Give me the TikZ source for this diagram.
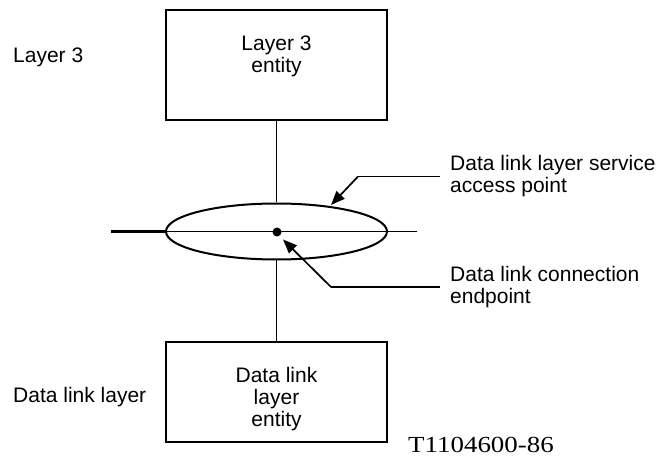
\documentclass[tikz,border=0pt]{standalone}
\usepackage{fontspec}
\setmainfont{Liberation Sans}
\newfontfamily\figserif{Liberation Serif}
\usetikzlibrary{arrows.meta,shapes.geometric}
\begin{document}
\begin{tikzpicture}[x=1pt,y=-1pt,
  lbl/.style={font=\fontsize{21}{22}\selectfont, inner sep=0pt, align=center},
  sidelbl/.style={font=\fontsize{21}{22}\selectfont, inner sep=0pt, anchor=west},
  calllbl/.style={font=\fontsize{21}{22}\selectfont, inner xsep=10pt, inner ysep=0pt, anchor=west, align=left},
  entitybox/.style={draw, line width=2pt, minimum width=221pt, inner sep=0pt},
  conn/.style={line width=1.8pt},
  leader/.style={line width=1.7pt},
  arr/.style={-{Triangle[length=14pt,width=11pt]}, line width=1.7pt}
]
\useasboundingbox (0,0) rectangle (659,457);
\fill[white] (0,0) rectangle (659,457);

% boxes
\node[entitybox, minimum height=110pt] (l3box) at (276.5,65) {};
\node[lbl] (l3text) at (276.5,56) {Layer 3\\entity};
\node[entitybox, minimum height=100pt] (dlbox) at (276.5,392) {};
\node[lbl] (dltext) at (276.5,399) {Data link\\layer\\entity};

% side labels
\node[sidelbl] (l3side) at (13,57) {Layer 3};
\node[sidelbl] (dlside) at (13,397) {Data link layer};

% SAP ellipse and line
\node[draw, ellipse, line width=2pt, minimum width=221pt, minimum height=56pt, inner sep=0pt] (sap) at (276.5,231.5) {};
\coordinate (hl) at (111,231.5);
\coordinate (hr) at (417,231.5);
\draw[line width=3pt] (hl) -- (sap.west);
\draw[conn] (sap.west) -- (hr);
\fill (277,232) circle (4.5pt) coordinate (cep);

% vertical connectors
\draw[conn] (l3box.south) -- (sap.north);
\draw[conn] (sap.south) -- (dlbox.north);

% callouts
\node[calllbl] (saplbl) at (440,176.5) {Data link layer service\\access point};
\node[calllbl] (ceplbl) at (440,287) {Data link connection\\endpoint};
\coordinate (sapk) at (358,176.5);
\coordinate (sapt) at (331,205);
\coordinate (cepk) at (331,287);
\coordinate (cept) at (283,239.5);
\draw[leader] (saplbl.west) -- (sapk);
\draw[arr] (sapk) -- (sapt);
\draw[leader] (ceplbl.west) -- (cepk);
\draw[arr] (cepk) -- (cept);

% figure id
\node[inner sep=0pt, anchor=west, font=\figserif\fontsize{23}{24}\selectfont, xscale=1.17] (figid) at (408,445) {T1104600-86};
\end{tikzpicture}
\end{document}
